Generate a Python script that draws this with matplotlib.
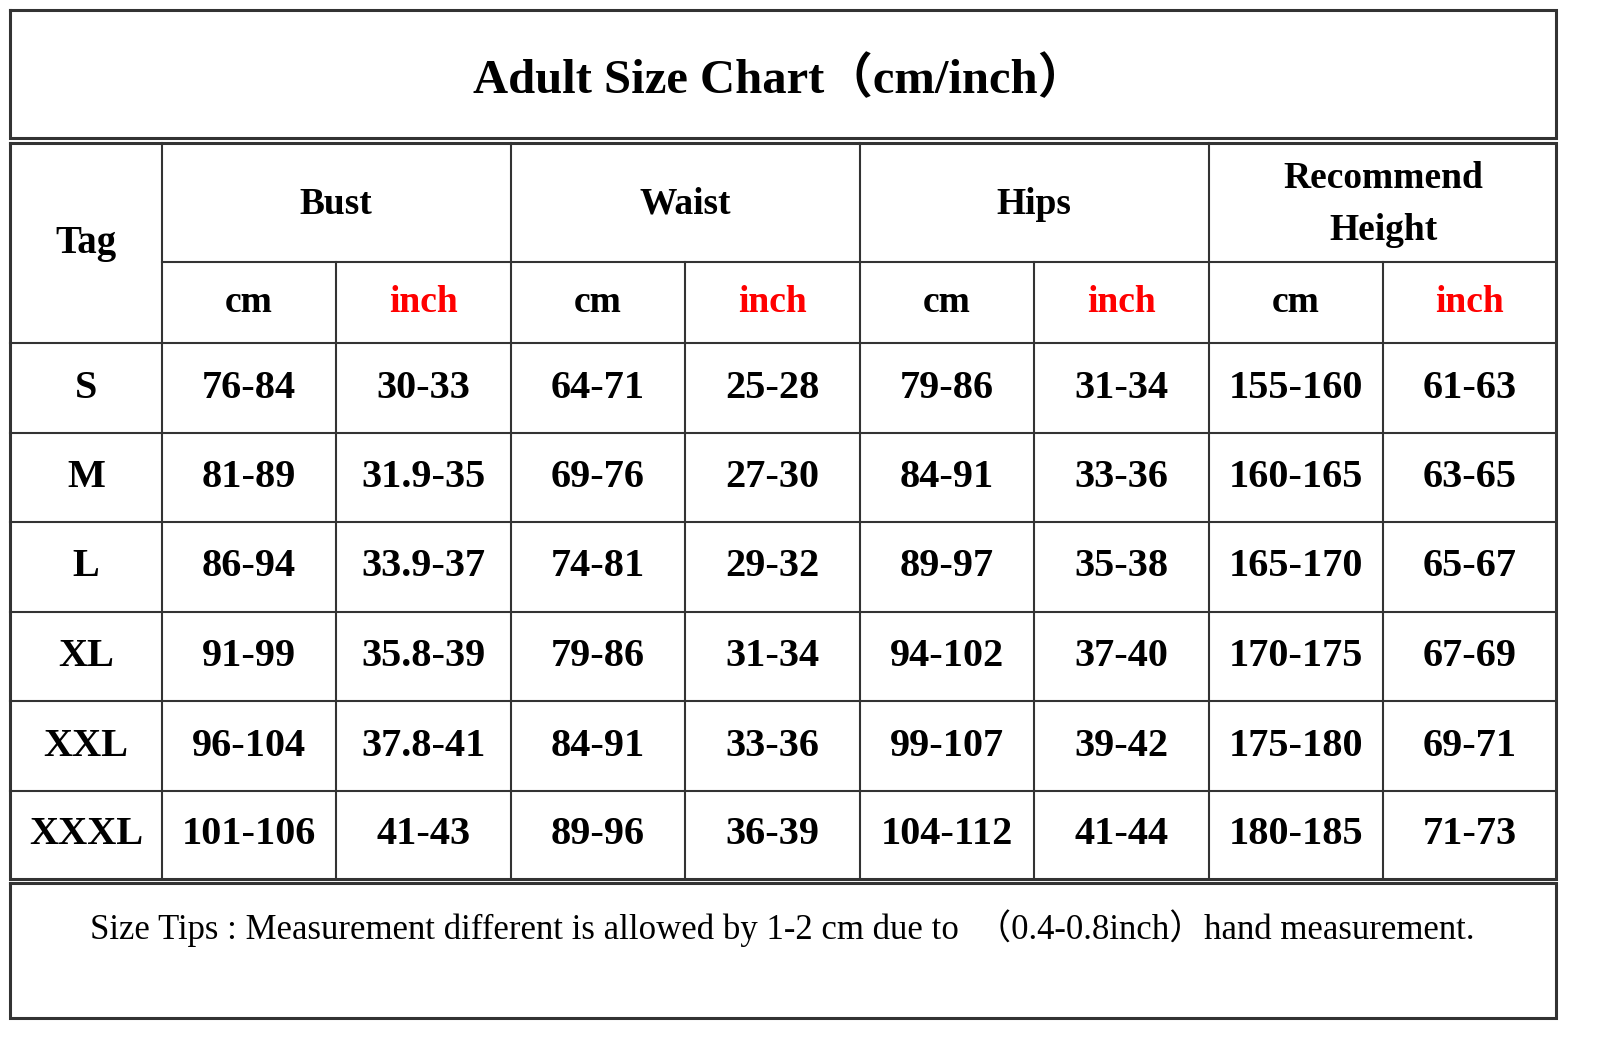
import matplotlib.pyplot as plt

# table content
title = "Adult Size Chart（cm/inch）"
groups = ["Bust", "Waist", "Hips", "Recommend\nHeight"]
units = ["cm", "inch"]
tags = ["S", "M", "L", "XL", "XXL", "XXXL"]
bust_cm = ["76-84", "81-89", "86-94", "91-99", "96-104", "101-106"]
bust_inch = ["30-33", "31.9-35", "33.9-37", "35.8-39", "37.8-41", "41-43"]
waist_cm = ["64-71", "69-76", "74-81", "79-86", "84-91", "89-96"]
waist_inch = ["25-28", "27-30", "29-32", "31-34", "33-36", "36-39"]
hips_cm = ["79-86", "84-91", "89-97", "94-102", "99-107", "104-112"]
hips_inch = ["31-34", "33-36", "35-38", "37-40", "39-42", "41-44"]
height_cm = ["155-160", "160-165", "165-170", "170-175", "175-180", "180-185"]
height_inch = ["61-63", "63-65", "65-67", "67-69", "69-71", "71-73"]
tip = "Size Tips : Measurement different is allowed by 1-2 cm due to  （0.4-0.8inch）hand measurement."

columns = [bust_cm, bust_inch, waist_cm, waist_inch,
           hips_cm, hips_inch, height_cm, height_inch]

# layout in pixels
col_x = [10, 162, 336, 511, 685, 860, 1034, 1209, 1383, 1556]
row_y = [143, 262, 343, 433, 522, 612, 701, 791, 879]
serif = ["Liberation Serif", "Noto Sans CJK SC", "DejaVu Serif"]
line_c = "#333333"

fig = plt.figure(figsize=(16, 10.4), dpi=100)
ax = fig.add_axes([0, 0, 1, 1])
ax.set_xlim(0, 1600)
ax.set_ylim(1040, 0)
ax.axis("off")


def box(x0, y0, x1, y1, lw=2.2):
    ax.plot([x0, x1, x1, x0, x0], [y0, y0, y1, y1, y0], color=line_c, lw=lw,
            solid_joinstyle="miter")


# title box
box(10, 10, 1556, 138)
ax.text(780, 80, title, ha="center", va="center", fontsize=35,
        fontweight="bold", family=serif)

# main table
box(10, 143, 1556, 879)
for y in row_y[1:-1]:
    x_start = col_x[1] if y == row_y[1] else col_x[0]
    ax.plot([x_start, col_x[-1]], [y, y], color=line_c, lw=1.5)
for i, x in enumerate(col_x[1:-1], start=1):
    y_start = row_y[0] if i % 2 == 1 else row_y[1]
    ax.plot([x, x], [y_start, row_y[-1]], color=line_c, lw=1.5)

ax.text((col_x[0] + col_x[1]) / 2, (row_y[0] + row_y[2]) / 2, "Tag",
        ha="center", va="center", fontsize=28, fontweight="bold", family=serif)

for g, name in enumerate(groups):
    cx = col_x[1 + 2 * g + 1]
    ax.text(cx, (row_y[0] + row_y[1]) / 2 + 2, name, ha="center", va="center",
            fontsize=27, fontweight="bold", family=serif, linespacing=1.6)
    for u, unit in enumerate(units):
        j = 1 + 2 * g + u
        ax.text((col_x[j] + col_x[j + 1]) / 2, (row_y[1] + row_y[2]) / 2, unit,
                ha="center", va="center", fontsize=27, fontweight="bold",
                family=serif, color="black" if unit == "cm" else "#ff0000")

for r, tag in enumerate(tags):
    cy = (row_y[2 + r] + row_y[3 + r]) / 2
    ax.text((col_x[0] + col_x[1]) / 2, cy, tag, ha="center", va="center",
            fontsize=29, fontweight="bold", family=serif)
    for j, col in enumerate(columns):
        ax.text((col_x[j + 1] + col_x[j + 2]) / 2, cy, col[r], ha="center",
                va="center", fontsize=29, fontweight="bold", family=serif)

# footer
box(10, 883, 1556, 1018)
ax.text(782, 928, tip, ha="center", va="center", fontsize=25, family=serif)

fig.savefig("out.png", dpi=100, facecolor="white")
